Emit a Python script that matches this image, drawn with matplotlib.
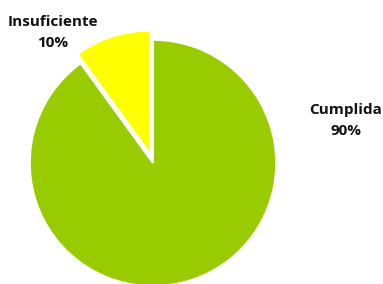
import matplotlib
matplotlib.use('Agg')
import matplotlib.pyplot as plt

# data
labels = ['Cumplida', 'Insuficiente']
values = [90, 10]
colors = ['#99CC00', '#FFFF00']
explode = [0, 0.08]

fig = plt.figure(figsize=(3.83, 2.84), dpi=100)
ax = fig.add_axes([0, 0, 1, 1])

ax.pie(values, colors=colors, explode=explode, startangle=90, counterclock=False,
       radius=1.01, wedgeprops=dict(edgecolor='white', linewidth=1.5))

# label positions (data coords, pie radius ~ 1)
label_pos = {'Cumplida': (1.58, 0.35), 'Insuficiente': (-0.82, 1.07)}
for lab, v in zip(labels, values):
    x, y = label_pos[lab]
    ax.text(x, y, f'{lab}\n{v}%', ha='center', va='center', fontsize=11,
            fontweight='bold', family='Open Sans', linespacing=1.6, color='#111111')

ax.set_xlim(-1.254, 1.885)
ax.set_ylim(-0.992, 1.336)
ax.set_aspect('auto')
ax.axis('off')

fig.savefig('out.png', dpi=100)
